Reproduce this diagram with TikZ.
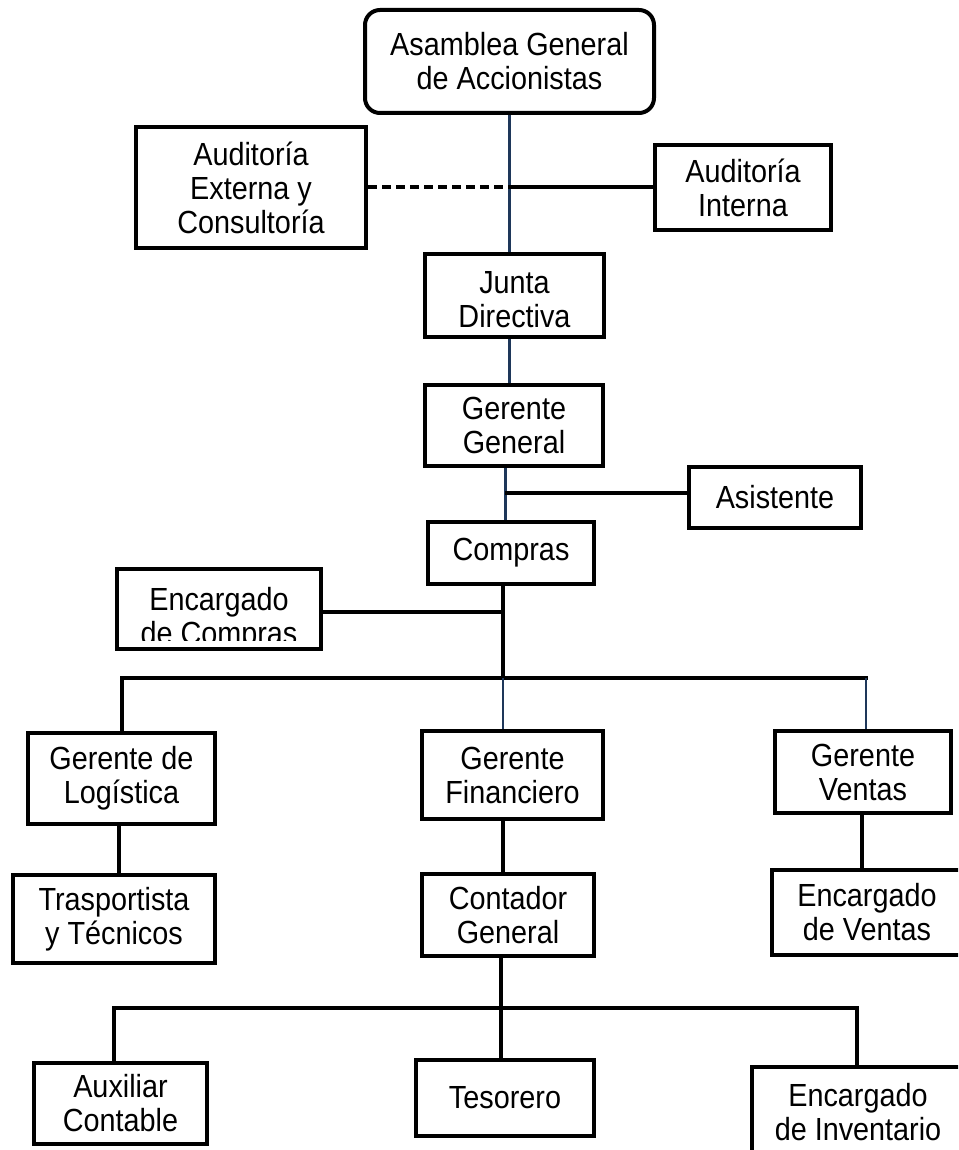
\documentclass[tikz,border=0pt]{standalone}
\usepackage{fontspec}
\setmainfont{Liberation Sans}[FakeStretch=0.9]
\usetikzlibrary{backgrounds}
\definecolor{linknavy}{RGB}{30,55,90}
\begin{document}
\begin{tikzpicture}[x=1pt,y=-1pt,
  box/.style={draw=black, line width=4pt, fill=white, inner sep=0pt,
              align=center, font=\fontsize{32}{34}\selectfont},
  plain/.style={inner sep=0pt, align=center, font=\fontsize{32}{34}\selectfont},
  link/.style={draw=black, line width=4pt},
  buslink/.style={draw=black, line width=4pt, line cap=rect},
  navylink/.style={draw=linknavy, line width=3pt},
  thinlink/.style={draw=linknavy, line width=2.2pt},
  dashlink/.style={draw=black, line width=4pt, dash pattern=on 9pt off 5pt}]
\clip (0,0) rectangle (958,1150);

% organisation boxes
\node[box, rounded corners=15pt, minimum width=289pt, minimum height=103pt] (asam) at (509.5,61.5) {Asamblea General\\de Accionistas};
\node[box, minimum width=230pt, minimum height=121pt] (ext) at (251,187.5) {Auditoría\\Externa y\\Consultoría};
\node[box, minimum width=176pt, minimum height=85pt] (int) at (743,187.5) {Auditoría\\Interna};
\node[box, minimum width=179pt, minimum height=83pt] (junta) at (514.5,295.5) {};
\node[plain] (juntatext) at (514.5,300) {Junta\\Directiva};
\node[box, minimum width=178pt, minimum height=81pt] (gg) at (514,425.5) {Gerente\\General};
\node[box, minimum width=172pt, minimum height=61pt] (asis) at (775,497.5) {Asistente};
\node[box, minimum width=166pt, minimum height=62pt] (compras) at (511,553) {Compras};
\node[box, minimum width=204pt, minimum height=80pt] (enccomp) at (219,609) {};
\begin{scope}
  \clip (115,567) rectangle (323,640);
  \node[plain] (enccomptext) at (219,619) {Encargado\\de Compras};
\end{scope}
\node[box, minimum width=187pt, minimum height=91pt] (glog) at (121.5,778.5) {Gerente de\\Logística};
\node[box, minimum width=181pt, minimum height=88pt] (gfin) at (512.5,775) {Gerente\\Financiero};
\node[box, minimum width=176pt, minimum height=82pt] (gven) at (863,772) {Gerente\\Ventas};
\node[box, minimum width=202pt, minimum height=88pt] (trans) at (114,919) {Trasportista\\y Técnicos};
\node[box, minimum width=172pt, minimum height=82pt] (cont) at (508,915) {Contador\\General};
\node[box, minimum width=190pt, minimum height=85pt] (encven) at (867,912.5) {Encargado\\de Ventas};
\node[box, minimum width=173pt, minimum height=81pt] (aux) at (120.5,1103.5) {Auxiliar\\Contable};
\node[box, minimum width=178pt, minimum height=76pt] (tes) at (505,1098) {Tesorero};
\node[box, minimum width=212pt, minimum height=91pt] (encinv) at (858,1112.5) {Encargado\\de Inventario};

% junction points of the connectors
\coordinate (j1) at (509,187.5);
\coordinate (j2) at (505,493);
\coordinate (j3) at (503,612);
\coordinate (bus1) at (503,678);
\coordinate (bL) at (122,678);
\coordinate (bR) at (866,678);
\coordinate (k0) at (501,1008);
\coordinate (kL) at (114,1008);
\coordinate (kR) at (857,1008);

\begin{scope}[on background layer]
  \fill[white] (0,0) rectangle (958,1150);
  % upper trunk
  \draw[navylink] (asam.south -| j1) -- (junta.north -| j1);
  \draw[dashlink] (ext.east) -- (j1);
  \draw[link] (j1) -- (int.west);
  \draw[navylink] (junta.south -| j1) -- (gg.north -| j1);
  \draw[navylink] (gg.south -| j2) -- (compras.north -| j2);
  \draw[link] (j2) -- (asis.west |- j2);
  % purchasing and first bus
  \draw[link] (compras.south -| j3) -- (bus1);
  \draw[link] (enccomp.east |- j3) -- (j3);
  \draw[buslink] (glog.north -| bL) -- (bL) -- (bR);
  \draw[thinlink] (bus1) -- (gfin.north -| bus1);
  \draw[thinlink] (bR) -- (gven.north -| bR);
  % managers to their staff
  \draw[link] ([xshift=-2.5pt]glog.south) -- ([xshift=-2.5pt]glog.south |- trans.north);
  \draw[link] (gfin.south -| bus1) -- (cont.north -| bus1);
  \draw[link] ([xshift=-1pt]gven.south) -- ([xshift=-1pt]gven.south |- encven.north);
  % accounting bus
  \draw[link] (cont.south -| k0) -- (k0);
  \draw[buslink] (aux.north -| kL) -- (kL) -- (kR) -- (encinv.north -| kR);
  \draw[link] (k0) -- (tes.north -| k0);
\end{scope}
\end{tikzpicture}
\end{document}
